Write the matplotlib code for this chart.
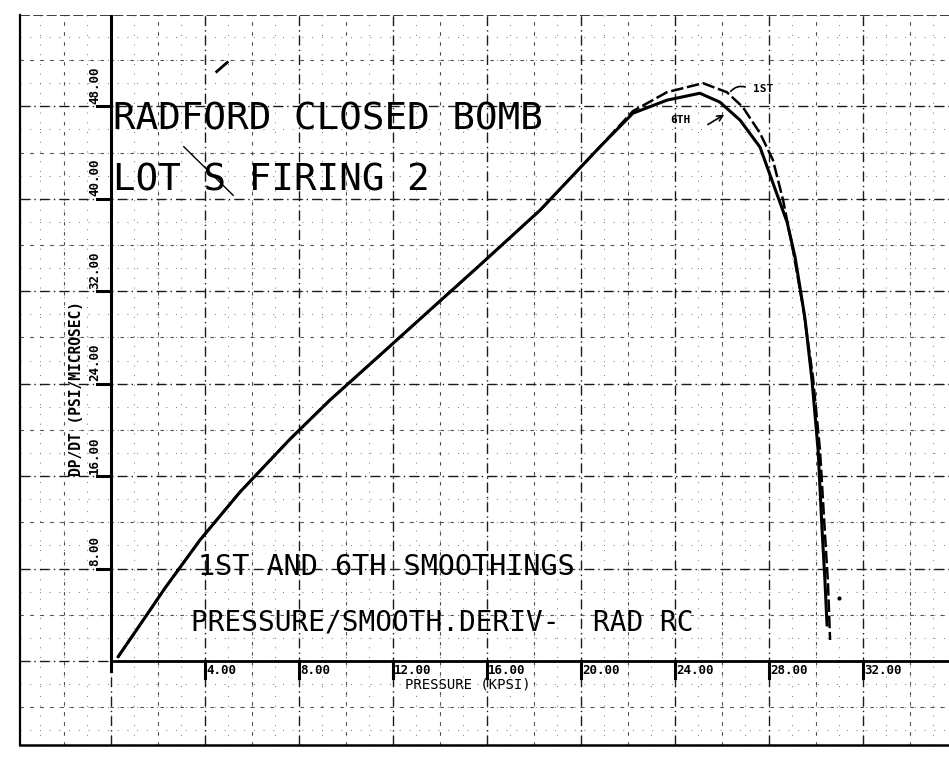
import matplotlib
matplotlib.use("Agg")
import matplotlib.pyplot as plt
import numpy as np

# ---- data ----
x_1st = [0.30, 1.23, 2.30, 3.79, 5.49, 7.62, 9.32, 11.45, 13.57, 15.70, 18.26, 20.81,
         22.21, 23.66, 25.19, 26.21, 26.89, 27.62, 28.17, 28.60, 29.02, 29.45, 29.87,
         30.17, 30.38, 30.51, 30.60]
y_1st = [0.35, 3.11, 6.31, 10.47, 14.62, 19.20, 22.58, 26.47, 30.36, 34.26, 39.01, 44.50,
         47.58, 49.22, 50.00, 49.22, 47.92, 45.67, 43.34, 39.88, 35.55, 30.62, 24.57,
         18.25, 11.07, 6.75, 1.82]
x_6th = [0.30, 1.23, 2.30, 3.79, 5.49, 7.62, 9.32, 11.45, 13.57, 15.70, 18.26, 20.81,
         22.21, 23.66, 25.06, 25.91, 26.77, 27.62, 28.17, 28.77, 29.11, 29.53, 29.83,
         30.09, 30.26, 30.38, 30.47]
y_6th = [0.35, 3.11, 6.31, 10.47, 14.62, 19.20, 22.58, 26.47, 30.36, 34.26, 39.01, 44.50,
         47.40, 48.53, 49.13, 48.36, 46.80, 44.46, 41.35, 37.98, 34.95, 29.67, 24.31,
         18.25, 11.33, 7.00, 3.10]

x_ticks = [4, 8, 12, 16, 20, 24, 28, 32]
x_tick_labels = ["4.00", "8.00", "12.00", "16.00", "20.00", "24.00", "28.00", "32.00"]
y_ticks = [8, 16, 24, 32, 40, 48]
y_tick_labels = ["8.00", "16.00", "24.00", "32.00", "40.00", "48.00"]

title_lines = ["RADFORD CLOSED BOMB", "LOT S FIRING 2"]
note_1 = "1ST AND 6TH SMOOTHINGS"
note_2 = "PRESSURE/SMOOTH.DERIV-  RAD RC"
x_label = "PRESSURE (KPSI)"
y_label = "DP/DT (PSI/MICROSEC)"

W, H = 949, 761
fig = plt.figure(figsize=(W / 100, H / 100), dpi=100)
ax = fig.add_axes([20 / W, 16 / H, 929 / W, 730 / H])
ax.set_xlim(-3.87, 35.66)
ax.set_ylim(-7.27, 55.9)
ax.set_xticks([])
ax.set_yticks([])
for s in ["top", "right"]:
    ax.spines[s].set_visible(False)
ax.spines["left"].set_linewidth(1.6)
ax.spines["bottom"].set_linewidth(1.8)

mono = "DejaVu Sans Mono"

# graph-paper grid
for gx in np.arange(-3.0, 35.7, 1.0):
    ax.axvline(gx, color="0.45", lw=0.7, ls=(0, (1, 9)), zorder=0)
for gy in np.arange(-6, 56, 2.0):
    ax.axhline(gy, color="0.45", lw=0.7, ls=(0, (1, 9)), zorder=0)
for gx in np.arange(-2, 35.7, 4):
    ax.axvline(gx, color="0.3", lw=0.8, ls=(0, (3, 6)), zorder=0)
for gy in np.arange(-4, 56, 8):
    ax.axhline(gy, color="0.3", lw=0.8, ls=(0, (3, 6)), zorder=0)
for gx in np.arange(-4, 35.7, 4):
    ax.axvline(gx, color="0.1", lw=1.0, ls=(0, (7, 3, 1, 3)), zorder=0)
for gy in np.arange(-8, 56, 8):
    ax.axhline(gy, color="0.1", lw=1.0, ls=(0, (7, 3, 1, 3)), zorder=0)
ax.axhline(55.9, color="0.1", lw=1.2, ls=(0, (6, 2)), zorder=0)

# main axes lines
ax.plot([0, 0], [-0.9, 55.9], color="black", lw=2.2, zorder=2)
ax.plot([0, 35.66], [0, 0], color="black", lw=2.0, zorder=2)
for t, lab in zip(x_ticks, x_tick_labels):
    ax.plot([t, t], [0, -1.5], color="black", lw=2.2, zorder=2)
    ax.text(t + 0.05, -0.85, lab, fontsize=9, fontweight="bold", family=mono,
            ha="left", va="center", zorder=3)
for t, lab in zip(y_ticks, y_tick_labels):
    ax.plot([-0.6, 0], [t, t], color="black", lw=2.2, zorder=2)
    ax.text(-0.7, t + 0.2, lab, fontsize=9, fontweight="bold", family=mono,
            rotation=90, ha="center", va="bottom", zorder=3)

ax.text(12.5, -2.05, x_label, fontsize=10, family=mono, ha="left", va="center", zorder=3)
ax.text(-1.45, 23.6, y_label, fontsize=10.5, family=mono, fontweight="bold",
        rotation=90, ha="center", va="center", zorder=3)

# curves
ax.plot(x_6th, y_6th, color="black", lw=2.2, zorder=4, solid_capstyle="round")
ax.plot(x_1st, y_1st, color="black", lw=1.8, ls=(0, (5, 1.5)), zorder=4)

# annotations
ax.text(0.08, 46.9, title_lines[0], fontsize=27, family=mono, ha="left", va="center", zorder=3)
ax.text(0.08, 41.6, title_lines[1], fontsize=27, family=mono, ha="left", va="center", zorder=3)
ax.plot([3.1, 5.2], [44.5, 40.3], color="black", lw=1.0, zorder=3)
ax.plot([4.5, 4.95], [51.0, 51.8], color="black", lw=2.0, zorder=3)
ax.plot([31.0], [5.45], marker="o", ms=2, color="black", zorder=3)
ax.text(3.7, 8.1, note_1, fontsize=20.5, family=mono, ha="left", va="center", zorder=3)
ax.text(3.4, 3.3, note_2, fontsize=20, family=mono, ha="left", va="center", zorder=3)

ax.text(27.3, 49.5, "1ST", fontsize=8, fontweight="bold", family=mono,
        ha="left", va="center", zorder=3)
ax.annotate("", xy=(26.3, 49.1), xytext=(27.1, 49.6),
            arrowprops=dict(arrowstyle="-", lw=1.2, color="black", connectionstyle="arc3,rad=0.4"))
ax.text(23.8, 46.8, "6TH", fontsize=8, fontweight="bold", family=mono,
        ha="left", va="center", zorder=3)
ax.annotate("", xy=(26.2, 47.4), xytext=(25.3, 46.3),
            arrowprops=dict(arrowstyle="->", lw=1.2, color="black"))

fig.savefig("out.png", dpi=100, facecolor="white")
